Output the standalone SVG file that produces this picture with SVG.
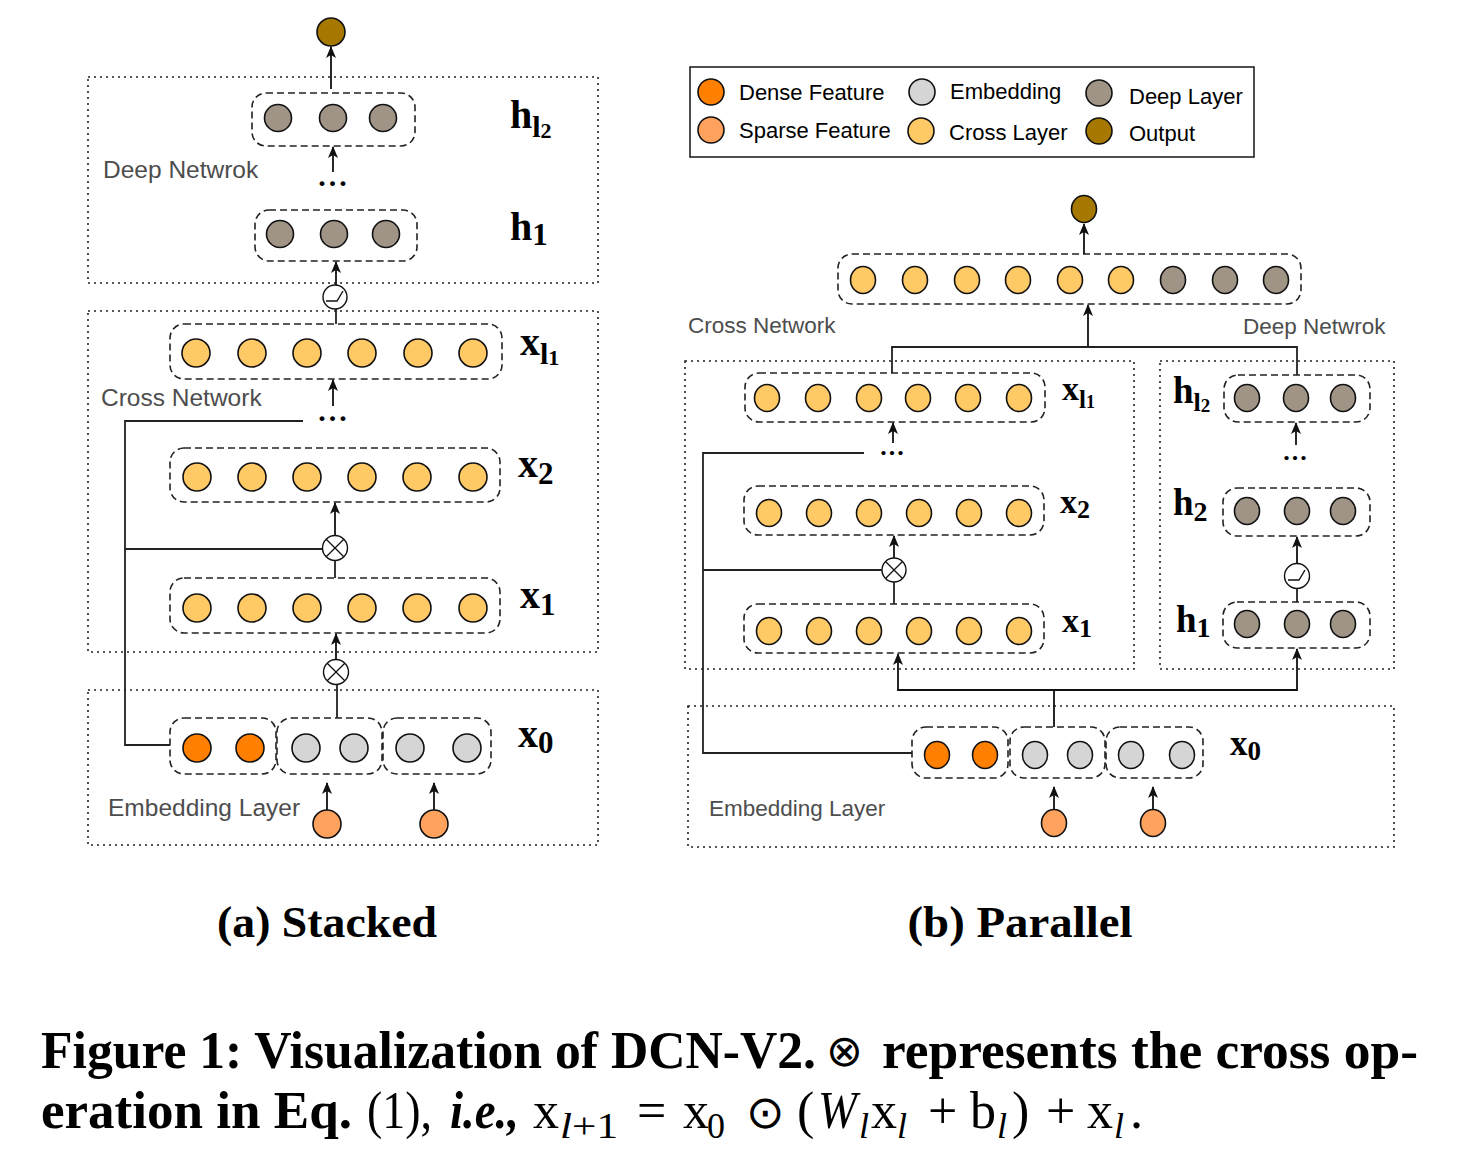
<svg xmlns="http://www.w3.org/2000/svg" width="1458" height="1166" viewBox="0 0 1458 1166">
<style>
.dot{fill:none;stroke:#222;stroke-width:1.6;stroke-dasharray:2,4}
.dash{fill:none;stroke:#222;stroke-width:1.6;stroke-dasharray:7,4}
.n{stroke:#111;stroke-width:1.6}
.cl{fill:#FFC966}
.dl{fill:#A09487}
.em{fill:#D5D5D5}
.df{fill:#FF7F00}
.sf{fill:#FFA25E}
.op{fill:#A67800}
.ln{fill:none;stroke:#222;stroke-width:1.8}
.ar{fill:none;stroke:#111;stroke-width:1.8;marker-end:url(#ah)}
.op2{fill:#fff;stroke:#111;stroke-width:1.4}
.lbl{font-family:"Liberation Sans",Arial,sans-serif;fill:#4d4d4d}
.lg{font-family:"Liberation Sans",Arial,sans-serif;font-size:22px;fill:#000}
.mb{font-family:"Liberation Serif","Times New Roman",serif;font-weight:bold;fill:#000}
.cap{font-family:"Liberation Serif","Times New Roman",serif;fill:#000}
</style>
<defs>
<marker id="ah" markerUnits="userSpaceOnUse" markerWidth="12" markerHeight="10" refX="11" refY="5" orient="auto">
<path d="M0,0 L12,5 L0,10 L3,5 z" fill="#111"/>
</marker>
</defs>

<!-- ===== (a) Stacked ===== -->
<g id="a-deep-box"><rect class="dot" x="88" y="77" width="510" height="206"/><text class="lbl" x="103" y="178" font-size="24.5">Deep Netwrok</text></g>
<g id="a-cross-box"><rect class="dot" x="88" y="311" width="510" height="341"/><text class="lbl" x="101" y="406" font-size="24.5">Cross Network</text></g>
<g id="a-emb-box"><rect class="dot" x="88" y="690" width="510" height="155"/><text class="lbl" x="108" y="816" font-size="24.5">Embedding Layer</text></g>

<g id="a-output"><circle class="n op" cx="331" cy="32" r="14"/></g>

<g id="a-hl2">
<rect class="dash" x="252" y="93" width="163" height="53" rx="14"/>
<circle class="n dl" cx="278" cy="118" r="13.5"/><circle class="n dl" cx="333" cy="118" r="13.5"/><circle class="n dl" cx="383" cy="118" r="13.5"/>
<text class="mb" x="510" y="128" font-size="40">h<tspan font-size="30" dy="9">l</tspan><tspan font-size="22" dy="1">2</tspan></text>
</g>
<g id="a-h1">
<rect class="dash" x="255" y="210" width="162" height="51" rx="14"/>
<circle class="n dl" cx="280" cy="234" r="13.5"/><circle class="n dl" cx="334" cy="234" r="13.5"/><circle class="n dl" cx="386" cy="234" r="13.5"/>
<text class="mb" x="510" y="240" font-size="40">h<tspan font-size="31" dy="5">1</tspan></text>
</g>
<g id="a-relu"><circle class="op2" cx="335" cy="297" r="12"/><path d="M326,301 H337 L343,291" fill="none" stroke="#111" stroke-width="1.4"/></g>

<g id="a-xl1">
<rect class="dash" x="170" y="324" width="332" height="55" rx="14"/>
<circle class="n cl" cx="196" cy="353" r="14"/><circle class="n cl" cx="252" cy="353" r="14"/><circle class="n cl" cx="307" cy="353" r="14"/><circle class="n cl" cx="362" cy="353" r="14"/><circle class="n cl" cx="418" cy="353" r="14"/><circle class="n cl" cx="473" cy="353" r="14"/>
<text class="mb" x="520" y="355" font-size="40">x<tspan font-size="30" dy="9">l</tspan><tspan font-size="22" dy="1">1</tspan></text>
</g>
<g id="a-x2">
<rect class="dash" x="170" y="448" width="330" height="54" rx="14"/>
<circle class="n cl" cx="197" cy="477" r="14"/><circle class="n cl" cx="252" cy="477" r="14"/><circle class="n cl" cx="307" cy="477" r="14"/><circle class="n cl" cx="362" cy="477" r="14"/><circle class="n cl" cx="417" cy="477" r="14"/><circle class="n cl" cx="473" cy="477" r="14"/>
<text class="mb" x="518" y="477" font-size="40">x<tspan font-size="31" dy="7">2</tspan></text>
</g>
<g id="a-cross1"><circle class="op2" cx="335" cy="548" r="12.5"/><path d="M326.2,539.2 L343.8,556.8 M343.8,539.2 L326.2,556.8" stroke="#111" stroke-width="1.3"/></g>
<g id="a-x1">
<rect class="dash" x="170" y="578" width="330" height="55" rx="14"/>
<circle class="n cl" cx="197" cy="608" r="14"/><circle class="n cl" cx="252" cy="608" r="14"/><circle class="n cl" cx="307" cy="608" r="14"/><circle class="n cl" cx="362" cy="608" r="14"/><circle class="n cl" cx="417" cy="608" r="14"/><circle class="n cl" cx="473" cy="608" r="14"/>
<text class="mb" x="520" y="608" font-size="40">x<tspan font-size="31" dy="7">1</tspan></text>
</g>
<g id="a-cross0"><circle class="op2" cx="336" cy="672" r="12.5"/><path d="M327.2,663.2 L344.8,680.8 M344.8,663.2 L327.2,680.8" stroke="#111" stroke-width="1.3"/></g>
<g id="a-x0">
<rect class="dash" x="170" y="718" width="106" height="56" rx="14"/>
<rect class="dash" x="277" y="718" width="105" height="56" rx="14"/>
<rect class="dash" x="383" y="718" width="108" height="56" rx="14"/>
<circle class="n df" cx="197" cy="748" r="14"/><circle class="n df" cx="250" cy="748" r="14"/>
<circle class="n em" cx="306" cy="748" r="14"/><circle class="n em" cx="354" cy="748" r="14"/>
<circle class="n em" cx="410" cy="748" r="14"/><circle class="n em" cx="467" cy="748" r="14"/>
<text class="mb" x="518" y="747" font-size="40">x<tspan font-size="31" dy="6">0</tspan></text>
</g>
<g id="a-sparse"><circle class="n sf" cx="327" cy="824" r="14"/><circle class="n sf" cx="434" cy="824" r="14"/></g>
<g id="a-dots">
<text class="mb" x="334" y="186" font-size="30" letter-spacing="3" text-anchor="middle">...</text>
<text class="mb" x="334" y="421" font-size="30" letter-spacing="3" text-anchor="middle">...</text>
</g>

<g id="a-connectors">
<line class="ar" x1="331" y1="89" x2="331" y2="47"/>
<line class="ar" x1="333" y1="172" x2="333" y2="147"/>
<line class="ar" x1="336" y1="285" x2="336" y2="262"/>
<line class="ln" x1="336" y1="309" x2="336" y2="324"/>
<line class="ar" x1="333" y1="406" x2="333" y2="380"/>
<path class="ln" d="M303,421 H125 V745 H170"/>
<path class="ln" d="M125,549 H322.5"/>
<line class="ar" x1="335" y1="535.5" x2="335" y2="503"/>
<line class="ln" x1="335" y1="560.5" x2="335" y2="578"/>
<line class="ar" x1="336" y1="659.5" x2="336" y2="634"/>
<line class="ln" x1="337" y1="684.5" x2="337" y2="718"/>
<line class="ar" x1="327" y1="810" x2="327" y2="783"/>
<line class="ar" x1="434" y1="810" x2="434" y2="783"/>
</g>
<text class="cap" x="327" y="937" font-size="44" font-weight="bold" text-anchor="middle" textLength="220" lengthAdjust="spacingAndGlyphs">(a) Stacked</text>

<!-- ===== (b) Parallel ===== -->
<g id="legend">
<rect x="690" y="67" width="564" height="90" fill="#fff" stroke="#222" stroke-width="1.6"/>
<circle class="n df" cx="711" cy="92" r="13"/><text class="lg" x="739" y="100">Dense Feature</text>
<circle class="n sf" cx="711" cy="130" r="13"/><text class="lg" x="739" y="138">Sparse Feature</text>
<circle class="n em" cx="922" cy="92" r="13"/><text class="lg" x="950" y="99">Embedding</text>
<circle class="n cl" cx="921" cy="131" r="13"/><text class="lg" x="949" y="140">Cross Layer</text>
<circle class="n dl" cx="1099" cy="93" r="13"/><text class="lg" x="1129" y="104">Deep Layer</text>
<circle class="n op" cx="1099" cy="131" r="13"/><text class="lg" x="1129" y="141">Output</text>
</g>

<g id="b-output"><ellipse class="n op" cx="1084" cy="209" rx="12.5" ry="13.5"/></g>
<g id="b-concat">
<rect class="dash" x="838" y="254" width="463" height="50" rx="14"/>
<ellipse class="n cl" cx="863" cy="280" rx="12.5" ry="13.5"/><ellipse class="n cl" cx="915" cy="280" rx="12.5" ry="13.5"/><ellipse class="n cl" cx="967" cy="280" rx="12.5" ry="13.5"/><ellipse class="n cl" cx="1018" cy="280" rx="12.5" ry="13.5"/><ellipse class="n cl" cx="1070" cy="280" rx="12.5" ry="13.5"/><ellipse class="n cl" cx="1121" cy="280" rx="12.5" ry="13.5"/>
<ellipse class="n dl" cx="1173" cy="280" rx="12.5" ry="13.5"/><ellipse class="n dl" cx="1225" cy="280" rx="12.5" ry="13.5"/><ellipse class="n dl" cx="1276" cy="280" rx="12.5" ry="13.5"/>
</g>
<g id="b-cross-box"><rect class="dot" x="685" y="361" width="449" height="308"/><text class="lbl" x="688" y="333" font-size="22.5">Cross Network</text></g>
<g id="b-deep-box"><rect class="dot" x="1160" y="361" width="234" height="308"/><text class="lbl" x="1243" y="334" font-size="22.5">Deep Netwrok</text></g>
<g id="b-emb-box"><rect class="dot" x="688" y="706" width="706" height="141"/><text class="lbl" x="709" y="816" font-size="22.5">Embedding Layer</text></g>

<g id="b-xl1">
<rect class="dash" x="745" y="373" width="300" height="49" rx="14"/>
<ellipse class="n cl" cx="767" cy="398" rx="12.5" ry="13.5"/><ellipse class="n cl" cx="818" cy="398" rx="12.5" ry="13.5"/><ellipse class="n cl" cx="869" cy="398" rx="12.5" ry="13.5"/><ellipse class="n cl" cx="918" cy="398" rx="12.5" ry="13.5"/><ellipse class="n cl" cx="968" cy="398" rx="12.5" ry="13.5"/><ellipse class="n cl" cx="1019" cy="398" rx="12.5" ry="13.5"/>
<text class="mb" x="1062" y="400" font-size="34">x<tspan font-size="25" dy="8">l</tspan><tspan font-size="18" dy="0">1</tspan></text>
</g>
<g id="b-x2">
<rect class="dash" x="744" y="486" width="300" height="49" rx="14"/>
<ellipse class="n cl" cx="769" cy="513" rx="12.5" ry="13.5"/><ellipse class="n cl" cx="819" cy="513" rx="12.5" ry="13.5"/><ellipse class="n cl" cx="869" cy="513" rx="12.5" ry="13.5"/><ellipse class="n cl" cx="919" cy="513" rx="12.5" ry="13.5"/><ellipse class="n cl" cx="969" cy="513" rx="12.5" ry="13.5"/><ellipse class="n cl" cx="1019" cy="513" rx="12.5" ry="13.5"/>
<text class="mb" x="1060" y="513" font-size="34">x<tspan font-size="26" dy="5">2</tspan></text>
</g>
<g id="b-cross1"><circle class="op2" cx="894" cy="570" r="12"/><path d="M885.5,561.5 L902.5,578.5 M902.5,561.5 L885.5,578.5" stroke="#111" stroke-width="1.3"/></g>
<g id="b-x1">
<rect class="dash" x="744" y="604" width="300" height="49" rx="14"/>
<ellipse class="n cl" cx="769" cy="631" rx="12.5" ry="13.5"/><ellipse class="n cl" cx="819" cy="631" rx="12.5" ry="13.5"/><ellipse class="n cl" cx="869" cy="631" rx="12.5" ry="13.5"/><ellipse class="n cl" cx="919" cy="631" rx="12.5" ry="13.5"/><ellipse class="n cl" cx="969" cy="631" rx="12.5" ry="13.5"/><ellipse class="n cl" cx="1019" cy="631" rx="12.5" ry="13.5"/>
<text class="mb" x="1062" y="632" font-size="34">x<tspan font-size="26" dy="5">1</tspan></text>
</g>

<g id="b-hl2">
<rect class="dash" x="1224" y="375" width="146" height="47" rx="14"/>
<ellipse class="n dl" cx="1247" cy="398" rx="12.5" ry="13.5"/><ellipse class="n dl" cx="1296" cy="398" rx="12.5" ry="13.5"/><ellipse class="n dl" cx="1343" cy="398" rx="12.5" ry="13.5"/>
<text class="mb" x="1173" y="403" font-size="37">h<tspan font-size="26" dy="8">l</tspan><tspan font-size="19" dy="1">2</tspan></text>
</g>
<g id="b-h2">
<rect class="dash" x="1223" y="488" width="147" height="48" rx="14"/>
<ellipse class="n dl" cx="1247" cy="511" rx="12.5" ry="13.5"/><ellipse class="n dl" cx="1297" cy="511" rx="12.5" ry="13.5"/><ellipse class="n dl" cx="1343" cy="511" rx="12.5" ry="13.5"/>
<text class="mb" x="1173" y="515" font-size="37">h<tspan font-size="28" dy="6">2</tspan></text>
</g>
<g id="b-relu"><circle class="op2" cx="1297" cy="576" r="12.5"/><path d="M1288,580 H1299 L1305,570" fill="none" stroke="#111" stroke-width="1.4"/></g>
<g id="b-h1">
<rect class="dash" x="1223" y="602" width="147" height="46" rx="14"/>
<ellipse class="n dl" cx="1247" cy="624" rx="12.5" ry="13.5"/><ellipse class="n dl" cx="1297" cy="624" rx="12.5" ry="13.5"/><ellipse class="n dl" cx="1343" cy="624" rx="12.5" ry="13.5"/>
<text class="mb" x="1176" y="632" font-size="37">h<tspan font-size="28" dy="5">1</tspan></text>
</g>

<g id="b-x0">
<rect class="dash" x="912" y="727" width="96" height="51" rx="14"/>
<rect class="dash" x="1010" y="727" width="95" height="51" rx="14"/>
<rect class="dash" x="1106" y="727" width="97" height="51" rx="14"/>
<ellipse class="n df" cx="937" cy="755" rx="12.5" ry="13.5"/><ellipse class="n df" cx="985" cy="755" rx="12.5" ry="13.5"/>
<ellipse class="n em" cx="1035" cy="755" rx="12.5" ry="13.5"/><ellipse class="n em" cx="1080" cy="755" rx="12.5" ry="13.5"/>
<ellipse class="n em" cx="1131" cy="755" rx="12.5" ry="13.5"/><ellipse class="n em" cx="1182" cy="755" rx="12.5" ry="13.5"/>
<text class="mb" x="1230" y="755" font-size="35">x<tspan font-size="27" dy="5">0</tspan></text>
</g>
<g id="b-sparse"><ellipse class="n sf" cx="1054" cy="823" rx="12.5" ry="13.5"/><ellipse class="n sf" cx="1153" cy="823" rx="12.5" ry="13.5"/></g>
<g id="b-dots">
<text class="mb" x="893" y="455" font-size="26" letter-spacing="2" text-anchor="middle">...</text>
<text class="mb" x="1296" y="460" font-size="26" letter-spacing="2" text-anchor="middle">...</text>
</g>

<g id="b-connectors">
<line class="ar" x1="1084" y1="254" x2="1084" y2="224"/>
<line class="ar" x1="1088" y1="347" x2="1088" y2="305"/>
<path class="ln" d="M892,373 V347 H1297 V375"/>
<line class="ar" x1="893" y1="443" x2="893" y2="423"/>
<path class="ln" d="M864,453 H703 V753 H912"/>
<path class="ln" d="M703,570 H882"/>
<line class="ar" x1="894" y1="558" x2="894" y2="536"/>
<line class="ln" x1="894" y1="582" x2="894" y2="604"/>
<path class="ar" d="M1054,727 V690 H898 V654"/>
<path class="ar" d="M1054,690 H1297 V649"/>
<line class="ar" x1="1296" y1="445" x2="1296" y2="423"/>
<line class="ar" x1="1297" y1="563.5" x2="1297" y2="537"/>
<line class="ln" x1="1297" y1="588.5" x2="1297" y2="602"/>
<line class="ar" x1="1054" y1="809" x2="1054" y2="787"/>
<line class="ar" x1="1153" y1="809" x2="1153" y2="787"/>
</g>
<text class="cap" x="1020" y="937" font-size="44" font-weight="bold" text-anchor="middle" textLength="225" lengthAdjust="spacingAndGlyphs">(b) Parallel</text>

<!-- ===== caption ===== -->
<g id="caption">
<text class="cap" x="41" y="1068" font-size="52" font-weight="bold" textLength="775" lengthAdjust="spacingAndGlyphs">Figure 1: Visualization of DCN-V2.</text>
<text class="cap" x="826" y="1066" font-size="44" font-family="'DejaVu Sans',sans-serif">⊗</text>
<text class="cap" x="882" y="1068" font-size="52" font-weight="bold" textLength="536" lengthAdjust="spacingAndGlyphs">represents the cross op-</text>
<text class="cap" x="41" y="1128" font-size="52" font-weight="bold" textLength="311" lengthAdjust="spacingAndGlyphs">eration in Eq.</text>
<text class="cap" x="367" y="1128" font-size="52" textLength="65" lengthAdjust="spacingAndGlyphs">(1),</text>
<text class="cap" x="450" y="1128" font-size="52" font-weight="bold" font-style="italic" textLength="69" lengthAdjust="spacingAndGlyphs">i.e.,</text>
<text class="cap" x="533" y="1128" font-size="52">x</text>
<text class="cap" x="560" y="1138" font-size="36" textLength="58" lengthAdjust="spacingAndGlyphs"><tspan font-style="italic">l</tspan>+1</text>
<text class="cap" x="637" y="1128" font-size="52">=</text>
<text class="cap" x="683" y="1128" font-size="52">x</text>
<text class="cap" x="707" y="1138" font-size="36">0</text>
<text class="cap" x="746" y="1128" font-size="46" font-family="'DejaVu Sans',sans-serif">⊙</text>
<text class="cap" x="797" y="1128" font-size="52">(</text>
<text class="cap" x="818" y="1128" font-size="52" font-style="italic" textLength="39" lengthAdjust="spacingAndGlyphs">W</text>
<text class="cap" x="859" y="1138" font-size="36" font-style="italic">l</text>
<text class="cap" x="871" y="1128" font-size="52">x</text>
<text class="cap" x="897" y="1138" font-size="36" font-style="italic">l</text>
<text class="cap" x="928" y="1128" font-size="52">+</text>
<text class="cap" x="970" y="1128" font-size="52">b</text>
<text class="cap" x="997" y="1138" font-size="36" font-style="italic">l</text>
<text class="cap" x="1012" y="1128" font-size="52">)</text>
<text class="cap" x="1046" y="1128" font-size="52">+</text>
<text class="cap" x="1087" y="1128" font-size="52">x</text>
<text class="cap" x="1114" y="1138" font-size="36" font-style="italic">l</text>
<text class="cap" x="1130" y="1128" font-size="52">.</text>
</g>
</svg>
